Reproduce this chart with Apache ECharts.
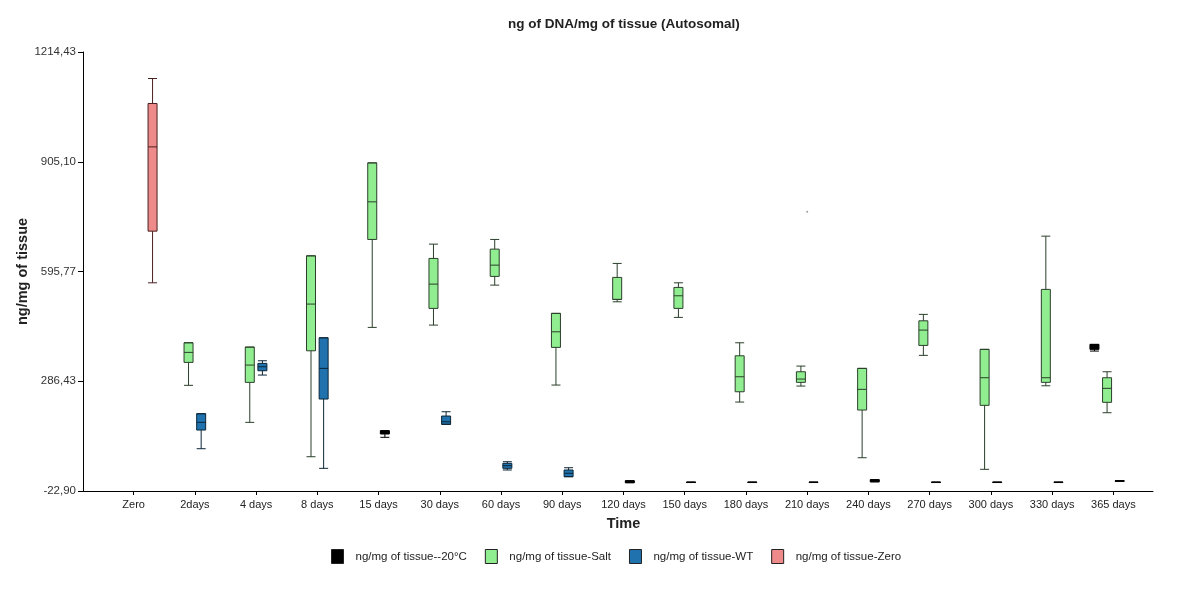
<!DOCTYPE html>
<html>
<head>
<meta charset="utf-8">
<script src="https://cdn.jsdelivr.net/npm/echarts@6/dist/echarts.min.js"></script>
<style>
  html, body { margin: 0; padding: 0; background: #fff; }
  #chart { width: 1200px; height: 602px; }
</style>
</head>
<body>
<div id="chart"></div>
<script>
// ---- data ----
var categories = ['Zero', '2days', '4 days', '8 days', '15 days', '30 days', '60 days', '90 days',
  '120 days', '150 days', '180 days', '210 days', '240 days', '270 days', '300 days', '330 days', '365 days'];

var yTickLabels = ['-22,90', '286,43', '595,77', '905,10', '1214,43'];

var seriesNames = ['ng/mg of tissue--20°C', 'ng/mg of tissue-Salt', 'ng/mg of tissue-WT', 'ng/mg of tissue-Zero'];

// [min, Q1, median, Q3, max] per category (null = no box)
var saltValues = [
  null,
  [274.9, 339.6, 367.8, 394.9, 394.9],
  [170.6, 283.3, 332.0, 382.7, 382.7],
  [73.7, 372.3, 503.9, 639.9, 639.9],
  [438.2, 686.1, 792.1, 901.9, 901.9],
  [444.7, 491.8, 560.2, 632.6, 672.9],
  [557.4, 581.9, 613.7, 658.8, 686.1],
  [275.7, 381.9, 425.8, 477.7, 477.7],
  [510.4, 517.1, 517.1, 579.1, 618.5],
  [466.4, 491.8, 527.3, 550.9, 563.9],
  [227.8, 256.8, 299.1, 358.2, 394.9],
  [272.9, 283.3, 292.6, 313.2, 329.2],
  [70.9, 205.3, 263.6, 322.7, 322.7],
  [359.4, 387.5, 430.6, 456.8, 474.9],
  [38.2, 218.5, 296.3, 376.3, 376.3],
  [273.7, 283.3, 296.3, 545.3, 695.4],
  [197.7, 227.0, 266.4, 296.3, 313.2]
];

var wtValues = [
  null,
  [96.3, 148.9, 170.6, 194.9, 194.9],
  [303.9, 316.0, 327.3, 336.8, 344.2],
  [41.0, 236.3, 322.7, 408.9, 408.9],
  null,
  [165.0, 165.0, 172.3, 188.4, 200.5],
  [36.3, 41.0, 48.4, 55.1, 59.6],
  [17.4, 17.4, 27.0, 36.3, 42.7],
  null, null, null, null, null, null, null, null, null
];

var zeroValues = [
  [563.9, 709.5, 947.0, 1069.3, 1139.7],
  null, null, null, null, null, null, null, null, null, null, null, null, null, null, null, null
];

// -20°C boxes (right-hand slot)
var minus20Values = [
  null, null, null, null,
  [128.4, 137.7, 143.0, 147.0, 147.0],
  null, null, null,
  [0.5, 0.5, 3.0, 6.0, 6.0],
  [1.0, 1.0, 1.6, 2.2, 2.2],
  [1.0, 1.0, 1.6, 2.2, 2.2],
  [1.0, 1.0, 1.6, 2.2, 2.2],
  [3.0, 3.0, 6.0, 9.0, 9.0],
  [1.0, 1.0, 1.6, 2.2, 2.2],
  [1.0, 1.0, 1.6, 2.2, 2.2],
  [1.0, 1.0, 1.6, 2.2, 2.2],
  [4.5, 4.5, 5.3, 6.0, 6.0]
];

// -20°C extra box at 365 days (left-hand slot)
var minus20ExtraValues = [
  null, null, null, null, null, null, null, null, null, null, null, null, null, null, null, null,
  [371.5, 376.3, 382.7, 390.3, 390.3]
];

// faint outlier point
var outlierPoints = [['210 days', 763.9]];

// ---- build ----
function toItems(vals) {
  var out = [];
  vals.forEach(function (v, i) {
    if (v) out.push([categories[i]].concat(v));
  });
  return out;
}

var font = 'Liberation Sans, Arial, sans-serif';
var fills = ['#000000', '#90ee90', '#1f72ad', '#ee8a8a'];
var borders = ['#000000', '#2b3f2b', '#0c2638', '#4a2020'];

function boxSeries(idx, vals, axisIdx) {
  return {
    type: 'boxplot',
    name: seriesNames[idx],
    xAxisIndex: axisIdx,
    yAxisIndex: 0,
    encode: { x: 0, y: [1, 2, 3, 4, 5] },
    data: toItems(vals),
    boxWidth: [8, 9],
    silent: true,
    emphasis: { disabled: true },
    itemStyle: { color: fills[idx], borderColor: borders[idx], borderWidth: 1 }
  };
}

function padSeries(id) {
  return {
    type: 'boxplot',
    id: id,
    name: '',
    xAxisIndex: 1,
    yAxisIndex: 0,
    encode: { x: 0, y: [1, 2, 3, 4, 5] },
    data: [],
    silent: true
  };
}

var chart = echarts.init(document.getElementById('chart'), null, { renderer: 'canvas' });

var option = {
  animation: false,
  backgroundColor: '#fff',
  textStyle: { fontFamily: font },
  title: {
    text: 'ng of DNA/mg of tissue (Autosomal)',
    left: 503,
    top: 12,
    textStyle: { fontSize: 13.5, fontWeight: 'bold', color: '#222', fontFamily: font }
  },
  legend: {
    data: seriesNames.map(function (n, i) {
      return { name: n, itemStyle: { color: fills[i], borderColor: '#222', borderWidth: 1 } };
    }),
    top: 544,
    left: 326,
    icon: 'rect',
    itemWidth: 12,
    itemHeight: 14,
    itemGap: 18,
    selectedMode: false,
    textStyle: { fontSize: 11.5, color: '#222', fontFamily: font, padding: [0, 0, 0, 7] }
  },
  grid: [
    { left: 103, right: 56, top: 52, bottom: 111 },
    { left: 83, right: 47, top: 52, bottom: 111 }
  ],
  xAxis: [
    {
      type: 'category',
      gridIndex: 0,
      data: categories,
      axisLine: { show: true, onZero: false, lineStyle: { color: '#000' } },
      axisTick: { show: true, alignWithLabel: true, length: 4, lineStyle: { color: '#000' } },
      axisLabel: { fontSize: 11, color: '#222', margin: 8, fontFamily: font },
      splitLine: { show: false },
      name: 'Time',
      nameLocation: 'middle',
      nameGap: 25,
      nameTextStyle: { fontSize: 14.5, fontWeight: 'bold', color: '#222', fontFamily: font }
    },
    {
      type: 'category',
      gridIndex: 0,
      data: categories,
      axisLine: { onZero: false },
      show: false
    },
    {
      type: 'value',
      gridIndex: 1,
      axisLine: { show: true, onZero: false, lineStyle: { color: '#000' } },
      axisTick: { show: false },
      axisLabel: { show: false },
      splitLine: { show: false }
    }
  ],
  yAxis: [
    {
      type: 'value',
      gridIndex: 0,
      min: -22.9,
      max: 1214.43,
      interval: 309.3325,
      offset: 20,
      axisLine: { show: true, lineStyle: { color: '#000' } },
      axisTick: { show: true, length: 5, lineStyle: { color: '#000' } },
      axisLabel: {
        fontSize: 11.5,
        color: '#333',
        margin: 7,
        fontFamily: font,
        formatter: function (v, idx) { return yTickLabels[idx] !== undefined ? yTickLabels[idx] : ''; }
      },
      splitLine: { show: false },
      name: 'ng/mg of tissue',
      nameLocation: 'middle',
      nameRotate: 90,
      nameGap: 53,
      nameMoveOverlap: false,
      nameTextStyle: { fontSize: 14.5, fontWeight: 'bold', color: '#222', fontFamily: font }
    },
    {
      type: 'value',
      gridIndex: 1,
      show: false
    }
  ],
  series: [
    boxSeries(0, minus20ExtraValues, 0),
    boxSeries(1, saltValues, 0),
    boxSeries(2, wtValues, 0),
    boxSeries(3, zeroValues, 0),
    padSeries('pad0'),
    padSeries('pad1'),
    boxSeries(0, minus20Values, 1),
    padSeries('pad3'),
    {
      type: 'scatter',
      name: 'outlier',
      xAxisIndex: 0,
      yAxisIndex: 0,
      data: outlierPoints,
      symbolSize: 2,
      silent: true,
      itemStyle: { color: '#888' }
    }
  ]
};

chart.setOption(option);
</script>
</body>
</html>
